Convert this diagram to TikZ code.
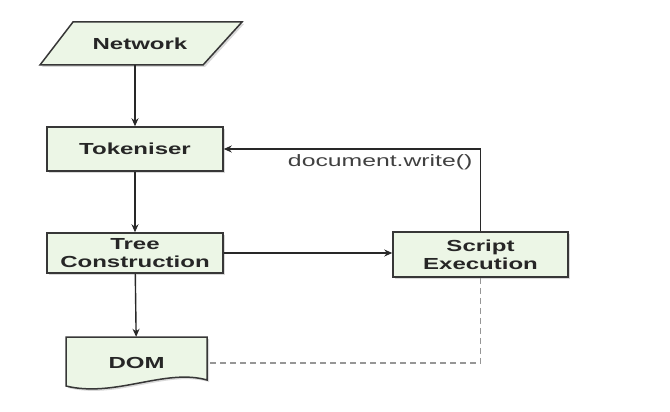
\documentclass[tikz,border=0pt]{standalone}
\usepackage{fontspec}
\setmainfont{Liberation Sans}[FakeStretch=1.5]
\usepackage{xcolor}
\usetikzlibrary{arrows.meta,shadows}

\definecolor{boxfill}{RGB}{236,246,230}
\definecolor{boxline}{RGB}{55,55,55}
\definecolor{linkgray}{RGB}{40,40,40}
\definecolor{dashgray}{RGB}{150,150,150}

\tikzset{
  stagefill/.style={draw=boxline, line width=1.5pt, fill=boxfill,
    drop shadow={opacity=0.3, shadow xshift=2pt, shadow yshift=-2pt}},
  stage/.style={stagefill, minimum width=176pt, inner sep=0pt, align=center,
    font=\bfseries\fontsize{16}{18}\selectfont, text=black!85},
  stagetext/.style={inner sep=0pt, align=center,
    font=\bfseries\fontsize{16}{18}\selectfont, text=black!85},
  link/.style={->, >={Stealth[length=8pt,width=7pt]}, line width=1.4pt, linkgray},
  dashlink/.style={line width=1.3pt, dashgray, dash pattern=on 6pt off 4pt}
}

\begin{document}
\begin{tikzpicture}[x=1pt, y=-1pt]
        \useasboundingbox (0,0) rectangle (670,412);

        % Wejście (Network)
        \draw[stagefill] (40,65) -- (73,22) -- (242,22) -- (203,65) -- cycle;
        \node[stagetext, minimum width=170pt, minimum height=43pt] (net) at (140,43.5) {Network};

        % Etapy
        \node[stage, minimum height=44pt] (tok) at (135,149) {Tokeniser};
        \node[stage, minimum height=40pt] (tree) at (135,253) {Tree\\Construction};
        \node[stage, minimum width=175pt, minimum height=45pt] (script) at (480.5,254.5) {Script\\Execution};

        % Dokument (DOM)
        \draw[stagefill] (66,337) -- (207,337) -- (207,380) .. controls (165,368) and (115,398) .. (66,386) -- cycle;
        \node[stagetext, minimum width=141pt, minimum height=52pt] (dom) at (136.5,363) {DOM};

        % Strzałki
        \draw[link] (tok.north |- net.south) -- (tok.north);
        \draw[link] (tok) -- (tree);
        \draw[link] (tree) -- (dom);
        \draw[link] (tree.east) -- (tree.east -| script.west);

        % Pętla document.write()
        \coordinate (wr) at (script.north |- tok.east);
        \draw[link] (script.north) -- (wr) -- (tok.east);
        \node[anchor=north east, inner sep=0pt, text=black!75,
              font=\fontsize{16.5}{18}\selectfont] (wlabel) at ([xshift=-8pt, yshift=-5pt]wr) {document.write()};

        % Linia przerywana do DOM
        \draw[dashlink] (script.south) |- (dom.east);
    \end{tikzpicture}
\end{document}
